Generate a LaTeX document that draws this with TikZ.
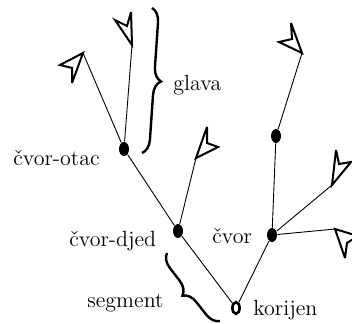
\documentclass[tikz,border=0pt]{standalone}
\usepackage{fontspec}
\usetikzlibrary{shapes.geometric,decorations.pathreplacing}
\begin{document}
\begin{tikzpicture}[x=0.5pt,y=-0.5pt,
  knot/.style={ellipse,fill=black,inner sep=0pt,minimum width=5pt,minimum height=7pt},
  rootknot/.style={ellipse,draw=black,line width=1.3pt,inner sep=0pt,minimum width=3.6pt,minimum height=5.8pt},
  branch/.style={line width=0.45pt},
  tipshape/.style={draw=black,fill=white,line width=1pt,line join=miter,miter limit=4},
  lbl/.style={font=\fontsize{11}{13}\selectfont,inner sep=0pt,anchor=base west},
  bracestyle/.style={decorate,decoration={brace,amplitude=7pt},line width=1.2pt}]
\useasboundingbox (0,0) rectangle (352,323);
% nodes
\node[rootknot] (root) at (236,308) {};
\node[knot] (djed) at (178,231) {};
\node[knot] (otac) at (124,149) {};
\node[knot] (cvor) at (272,235) {};
\node[knot] (up) at (276,136) {};
% tip attachment points
\coordinate (t1) at (132,45);
\coordinate (t2) at (83,53);
\coordinate (t3) at (196,158);
\coordinate (t4) at (302,53);
\coordinate (t5) at (332,185);
\coordinate (t6) at (335,229);
% branches
\draw[branch] (root) -- (djed);
\draw[branch] (djed) -- (otac);
\draw[branch] (root) -- (cvor);
\draw[branch] (cvor) -- (up);
\draw[branch] (otac) -- (t1);
\draw[branch] (otac) -- (t2);
\draw[branch] (djed) -- (t3);
\draw[branch] (up) -- (t4);
\draw[branch] (cvor) -- (t5);
\draw[branch] (cvor) -- (t6);
% tip shapes
\draw[tipshape] (t1) -- (115,20) -- (127,26) -- (131,12) -- cycle;
\draw[tipshape] (t2) -- (60,65) -- (72,68) -- (72,83) -- cycle;
\draw[tipshape] (t3) -- (207,127) -- (207,143) -- (218,147) -- cycle;
\draw[tipshape] (t4) -- (291,23) -- (292,39) -- (279,42) -- cycle;
\draw[tipshape] (t5) -- (336,150) -- (339,164) -- (351,162) -- cycle;
\begin{scope}
\clip (0,0) rectangle (352,323);
\draw[tipshape] (t6) -- (358,236) -- (347,243) -- (345,258) -- cycle;
\end{scope}
% braces
\coordinate (g1) at (152,8);
\coordinate (g2) at (142,153);
\draw[bracestyle] (g1) -- (g2);
\coordinate (s1) at (220,321);
\coordinate (s2) at (167,253);
\draw[bracestyle] (s1) -- (s2);
% labels
\node[lbl] (lglava) at (173,90) {glava};
\node[lbl] (lotac) at (13,165) {čvor-otac};
\node[lbl] (ldjed) at (69,246) {čvor-djed};
\node[lbl] (lcvor) at (212,243) {čvor};
\node[lbl] (lseg) at (87,307) {segment};
\node[lbl] (lkor) at (253,315) {korijen};
\end{tikzpicture}
\end{document}
